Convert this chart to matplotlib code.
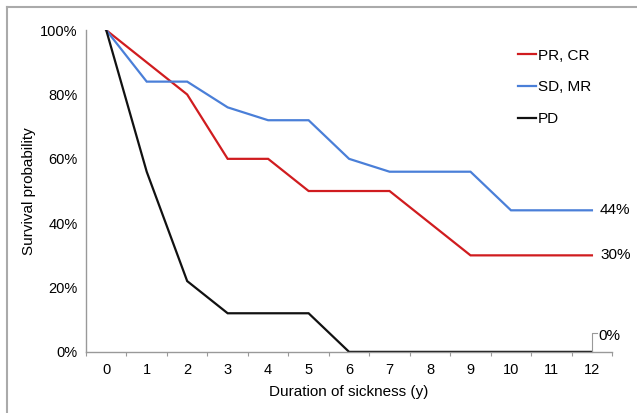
import numpy as np
from matplotlib import pyplot as plt
from matplotlib.lines import Line2D

plt.rcParams['font.family'] = ['Liberation Sans', 'DejaVu Sans']

years = np.arange(0, 13)
pr_cr = [100, 90, 80, 60, 60, 50, 50, 50, 40, 30, 30, 30, 30]
sd_mr = [100, 84, 84, 76, 72, 72, 60, 56, 56, 56, 44, 44, 44]
pd_ = [100, 56, 22, 12, 12, 12, 0, 0, 0, 0, 0, 0, 0]
series_names = ["PR, CR", "SD, MR", "PD"]
colors = ["#d01c1f", "#4a7fd8", "#111111"]

fig = plt.figure(figsize=(6.37, 4.13), dpi=100)
ax = fig.add_axes([0.135, 0.148, 0.826, 0.779])

for vals, name, c in zip([pr_cr, sd_mr, pd_], series_names, colors):
    ax.plot(years, vals, '-', color=c, lw=1.6, label=name, solid_joinstyle='miter')

ax.set_xlim(-0.5, 12.5)
ax.set_ylim(0, 100)
ax.set_yticks(np.arange(0, 101, 20))
ax.set_yticklabels([str(v) + "%" for v in range(0, 101, 20)])
ax.set_xticks(years)
ax.set_xticklabels([str(y) for y in years])
ax.set_xticks(np.arange(-0.5, 12.6, 1), minor=True)
ax.tick_params(axis='x', which='major', length=0, pad=8, labelsize=10.5)
ax.tick_params(axis='x', which='minor', length=3, color='#999999', width=0.8)
ax.tick_params(axis='y', length=0, pad=6, labelsize=10.5)

for s in ['top', 'right']:
    ax.spines[s].set_visible(False)
for s in ['left', 'bottom']:
    ax.spines[s].set_color('#999999')
    ax.spines[s].set_linewidth(1.0)

ax.set_xlabel("Duration of sickness (y)", fontsize=11, labelpad=6)
ax.set_ylabel("Survival probability", fontsize=11)
ax.yaxis.set_label_coords(-0.095, 0.5)

# end labels
ax.text(12.2, sd_mr[-1], str(sd_mr[-1]) + "%", va='center', ha='left', fontsize=11)
ax.text(12.2, pr_cr[-1], str(pr_cr[-1]) + "%", va='center', ha='left', fontsize=11)
ax.plot([12, 12, 12.12], [pd_[-1], 5.9, 5.9], color='#999999', lw=0.8, clip_on=False)
ax.text(12.15, 4.9, str(pd_[-1]) + "%", va='center', ha='left', fontsize=11)

leg = ax.legend(loc='upper left', bbox_to_anchor=(0.795, 0.985), frameon=False,
                fontsize=11, handlelength=1.2, handletextpad=0.1, labelspacing=1.15)

# border of the picture
fig.add_artist(Line2D([7 / 637, 1], [1 - 7 / 413, 1 - 7 / 413], color='#aaaaaa', lw=1.5))
fig.add_artist(Line2D([7 / 637, 7 / 637], [0, 1 - 7 / 413], color='#aaaaaa', lw=1.5))

fig.savefig("out.png", dpi=100)
